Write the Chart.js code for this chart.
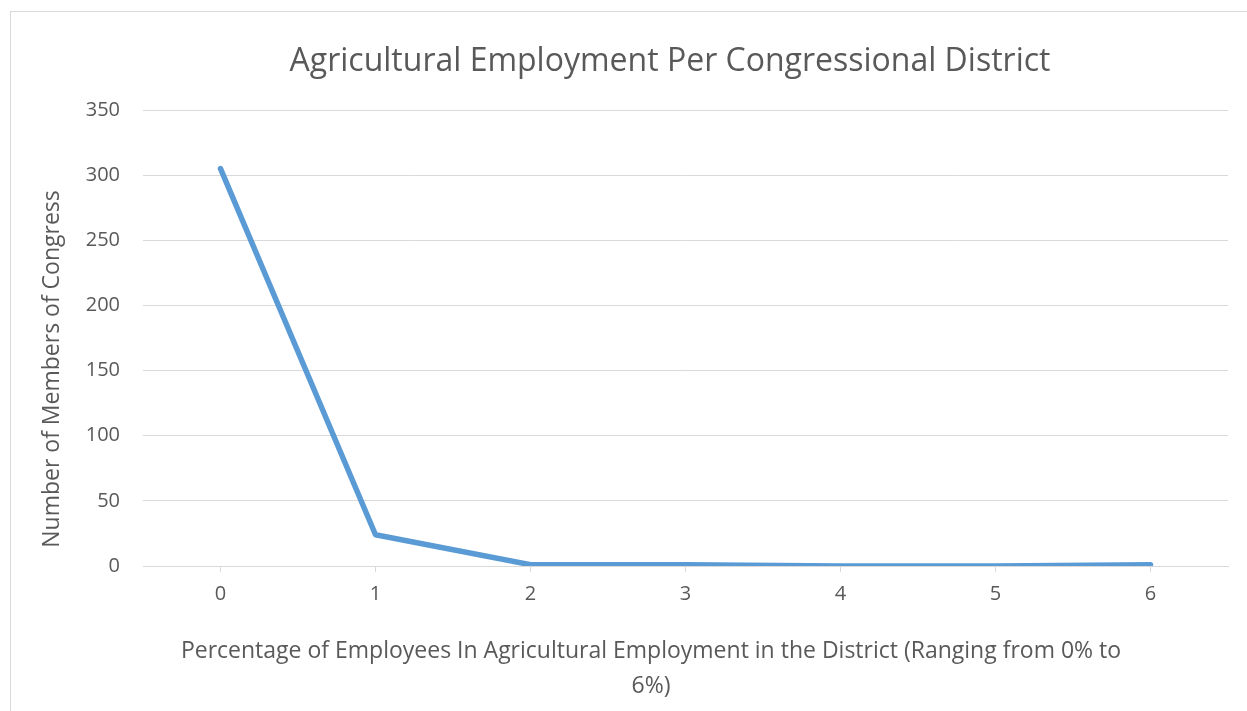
<!DOCTYPE html>
<html>
<head>
<meta charset="utf-8">
<title>Agricultural Employment Per Congressional District</title>
<script src="https://cdn.jsdelivr.net/npm/chart.js@4.4.0/dist/chart.umd.min.js"></script>
<style>
    html, body { margin: 0; padding: 0; background: #fff; }
    #frame {
        position: absolute; left: 10px; top: 11px;
        width: 1260px; height: 720px;
        border: 1px solid #d9d9d9; box-sizing: border-box;
    }
    #agChart { position: absolute; left: 0; top: 0; }
</style>
</head>
<body>
<div id="frame"></div>
<canvas id="agChart" width="1247" height="711"></canvas>
<script>
// Chart data
var categories = ['0', '1', '2', '3', '4', '5', '6'];
var members = [305, 24, 1, 1, 0, 0, 1];
var yMax = 350;
var yStep = 50;

var chartTitle = 'Agricultural Employment Per Congressional District';
var xTitleLines = ['Percentage of Employees In Agricultural Employment in the District (Ranging from 0% to', '6%)'];
var yTitle = 'Number of Members of Congress';

var textColor = '#595959';
var gridColor = '#d9d9d9';
var lineColor = '#5b9bd5';

Chart.defaults.font.family = '"Open Sans", sans-serif';
Chart.defaults.color = textColor;

// Draws the chart and axis titles the way Excel places them (centred on the whole chart)
var chartTitles = {
    id: 'chartTitles',
    afterDraw: function (chart) {
        var ctx = chart.ctx;
        ctx.save();
        ctx.fillStyle = textColor;
        ctx.textAlign = 'center';
        ctx.textBaseline = 'middle';
        ctx.font = '32px "Open Sans", sans-serif';
        ctx.fillText(chartTitle, 670, 62);
        ctx.font = '23px "Open Sans", sans-serif';
        xTitleLines.forEach(function (line, i) {
            ctx.fillText(line, 651, 651 + i * 35);
        });
        ctx.translate(52, 369);
        ctx.rotate(-Math.PI / 2);
        ctx.fillText(yTitle, 0, 0);
        ctx.restore();
    }
};

var ctx = document.getElementById('agChart').getContext('2d');

var agChart = new Chart(ctx, {
    type: 'line',
    data: {
        labels: categories,
        datasets: [{
            label: 'Members',
            data: members,
            borderColor: lineColor,
            backgroundColor: lineColor,
            borderWidth: 5.5,
            pointRadius: 0,
            tension: 0,
            borderJoinStyle: 'round',
            borderCapStyle: 'round',
        }]
    },
    options: {
        responsive: false,
        animation: false,
        layout: {
            padding: { left: 70, right: 19, top: 110, bottom: 0 }
        },
        scales: {
            x: {
                offset: true,
                grid: {
                    offset: false,
                    drawOnChartArea: false,
                    drawTicks: true,
                    tickLength: 6,
                    color: gridColor
                },
                border: { display: true, color: gridColor, width: 1 },
                ticks: {
                    padding: 10,
                    maxRotation: 0,
                    font: { size: 20 }
                },
                afterFit: function (scale) { scale.height = 145; }
            },
            y: {
                min: 0,
                max: yMax,
                grid: { color: gridColor, drawTicks: false },
                border: { display: false },
                ticks: {
                    stepSize: yStep,
                    padding: 23,
                    font: { size: 20 }
                },
                afterFit: function (scale) { scale.width = 73; }
            }
        },
        plugins: {
            legend: { display: false },
            tooltip: { enabled: false },
            title: { display: false }
        }
    },
    plugins: [chartTitles]
});
</script>
</body>
</html>
